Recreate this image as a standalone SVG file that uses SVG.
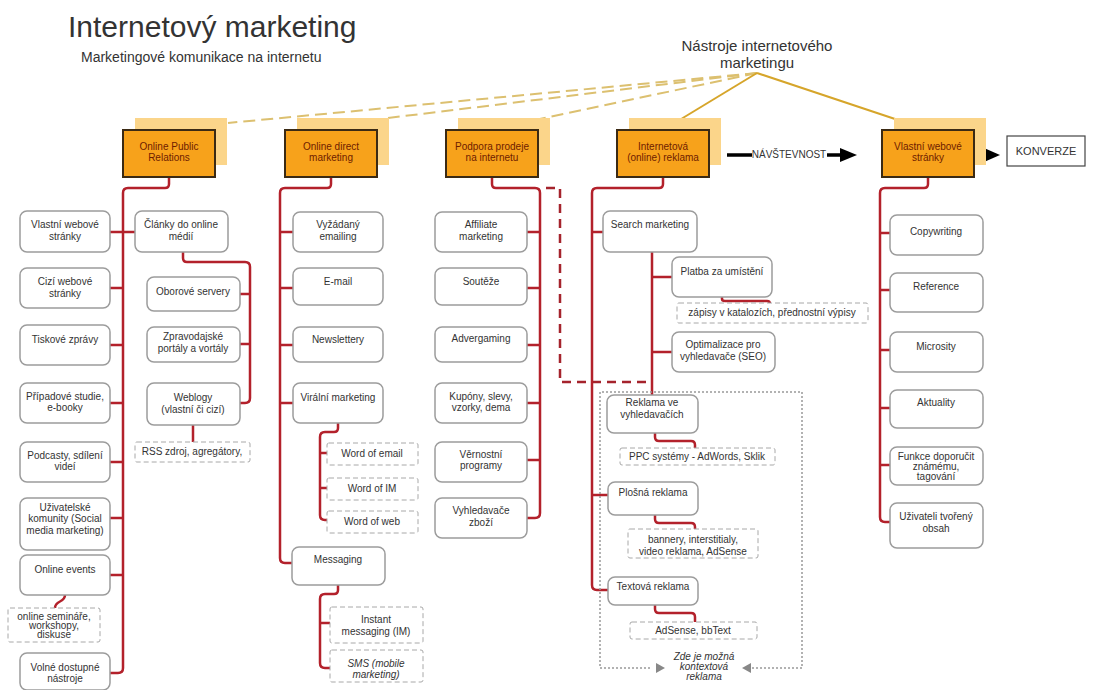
<svg xmlns="http://www.w3.org/2000/svg" width="1114" height="690" viewBox="0 0 1114 690">
<style>
text{font-family:"Liberation Sans",Arial,sans-serif;fill:#333}
.t{font-size:30px;fill:#333}
.st{font-size:14px}
.nh{font-size:15px}
.ob{fill:#f7a21b;stroke:#3b2a14;stroke-width:2}
.sh{fill:#fbd58a}
.ot{font-size:10px;fill:#6e1c00;text-anchor:middle}
.cb{fill:#fff;stroke:#9c9c9c;stroke-width:1.5}
.db{fill:#fff;stroke:#a8a8a8;stroke-width:1;stroke-dasharray:5,3}
.ct{font-size:10px;fill:#333;text-anchor:middle}
.it{font-style:italic}
.red{fill:none;stroke:#b3212b;stroke-width:2.5;stroke-linejoin:round}
.rdash{fill:none;stroke:#a5232c;stroke-width:2.5;stroke-dasharray:9,6}
.gold{stroke:#d6a52a;stroke-width:2;fill:none}
.goldd{stroke:#dcc070;stroke-width:2;fill:none;stroke-dasharray:12,6}
.blk{stroke:#000;stroke-width:3.5;fill:none}
</style>

<!-- titles -->
<text class="t" x="68" y="37">Internetový marketing</text>
<text class="st" x="81" y="62">Marketingové komunikace na internetu</text>
<g id="nastroje">
<text class="nh" x="757" y="51" text-anchor="middle">Nástroje internetového</text>
<text class="nh" x="757" y="68" text-anchor="middle">marketingu</text>
</g>

<!-- connectors -->
<g id="connectors">
<path class="goldd" d="M757,73 L228,123"/>
<path class="goldd" d="M757,73 L388,118"/>
<path class="goldd" d="M757,73 L492,129"/>
<path class="gold" d="M757,73 L663,130"/>
<path class="gold" d="M757,73 L928,130"/>

<!-- PR -->
<path class="red" d="M169,177 V184 Q169,188 165,188 H128 Q123,188 123,193 V668 Q123,673 118,673 H110"/>
<path class="red" d="M123,232 H110 M123,288 H110 M123,345 H110 M123,403 H110 M123,462 H110 M123,518 H110 M123,575 H110 M123,232 H135"/>
<path class="red" d="M183,252 V258 Q183,262 187,262 H245 Q250,262 250,267 V398 Q250,403 245,403 H240 M250,294 H240 M250,344 H240"/>
<path class="red" d="M193,425 V442"/>
<path class="red" d="M65,595 C65,603 55,600 55,608"/>

<!-- direct -->
<path class="red" d="M331,177 V184 Q331,188 327,188 H285 Q280,188 280,193 V558 Q280,563 285,563 H292"/>
<path class="red" d="M280,232 H293 M280,288 H293 M280,345 H293 M280,403 H293"/>
<path class="red" d="M338,423 V428 Q338,432 334,432 H325 Q320,432 320,437 V515 Q320,520 325,520 H327 M320,453 H327 M320,488 H327"/>
<path class="red" d="M338,585 V590 Q338,594 334,594 H325 Q320,594 320,599 V663 Q320,668 325,668 H330 M320,623 H330"/>

<!-- Podpora -->
<path class="red" d="M492,177 V184 Q492,188 496,188 H535 Q540,188 540,193 V513 Q540,518 535,518 H527"/>
<path class="red" d="M540,232 H527 M540,288 H527 M540,345 H527 M540,403 H527 M540,460 H527"/>
<path class="rdash" d="M546,188 H560 V382 H652"/>

<!-- Internetova -->
<path class="red" d="M663,177 V184 Q663,188 659,188 H597 Q592,188 592,193 V585 Q592,590 597,590 H608"/>
<path class="red" d="M592,232 H603 M592,495 H608"/>
<path class="red" d="M652,252 V395 M652,277 H672 M652,352 H672"/>
<path class="red" d="M722,297 V299 Q722,301 725,301 H767 Q770,301 770,304"/>
<path class="red" d="M655,433 V437 Q655,441 659,441 H691 Q695,441 695,445 V448"/>
<path class="red" d="M655,515 V519 Q655,523 659,523 H691 Q695,523 695,527 V529"/>
<path class="red" d="M655,605 V609 Q655,613 659,613 H691 Q695,613 695,617 V622"/>

<!-- Vlastni -->
<path class="red" d="M928,177 V184 Q928,188 924,188 H885 Q880,188 880,193 V517 Q880,522 885,522 H890"/>
<path class="red" d="M880,233 H890 M880,290 H890 M880,350 H890 M880,408 H890 M880,465 H890"/>

<!-- black arrows -->
<path class="blk" d="M727,155 H752 M827,155 H842"/>
<polygon points="840,148 857,155 840,162" fill="#000"/>
<path class="blk" d="M976,155 H986"/>
<polygon points="984,148 1000,155 984,162" fill="#000"/>
</g>

<!-- orange tools -->
<g id="online-pr">
<rect class="sh" x="135" y="118" width="92" height="47"/>
<rect class="ob" x="123" y="130" width="92" height="47"/>
<text class="ot" x="169" y="150">Online Public</text>
<text class="ot" x="169" y="161">Relations</text>
</g>
<g id="online-direct">
<rect class="sh" x="297" y="118" width="92" height="47"/>
<rect class="ob" x="285" y="130" width="92" height="47"/>
<text class="ot" x="331" y="150">Online direct</text>
<text class="ot" x="331" y="161">marketing</text>
</g>
<g id="podpora">
<rect class="sh" x="458" y="118" width="92" height="47"/>
<rect class="ob" x="446" y="130" width="92" height="47"/>
<text class="ot" x="492" y="150">Podpora prodeje</text>
<text class="ot" x="492" y="161">na internetu</text>
</g>
<g id="internetova">
<rect class="sh" x="629" y="118" width="92" height="47"/>
<rect class="ob" x="617" y="130" width="92" height="47"/>
<text class="ot" x="663" y="150">Internetová</text>
<text class="ot" x="663" y="161">(online) reklama</text>
</g>
<g id="navstevnost"><text x="789" y="158" font-size="10" text-anchor="middle" fill="#222">NÁVŠTEVNOST</text></g>
<g id="vlastni">
<rect class="sh" x="894" y="118" width="92" height="47"/>
<rect class="ob" x="882" y="130" width="92" height="47"/>
<text class="ot" x="928" y="150">Vlastní webové</text>
<text class="ot" x="928" y="161">stránky</text>
</g>
<g id="konverze">
<rect x="1007" y="136" width="78" height="30" fill="#fff" stroke="#444" stroke-width="1.2"/>
<text x="1046" y="155" font-size="11" text-anchor="middle" fill="#222">KONVERZE</text>
</g>

<!-- PR children -->
<g id="pr-vlastni"><rect class="cb" x="20" y="211" width="90" height="41" rx="7"/><text class="ct" x="65" y="228">Vlastní webové</text><text class="ct" x="65" y="240">stránky</text></g>
<g id="pr-cizi"><rect class="cb" x="20" y="268" width="90" height="40" rx="7"/><text class="ct" x="65" y="285">Cizí webové</text><text class="ct" x="65" y="297">stránky</text></g>
<g id="pr-tiskove"><rect class="cb" x="20" y="325" width="90" height="40" rx="7"/><text class="ct" x="65" y="343">Tiskové zprávy</text></g>
<g id="pr-pripadove"><rect class="cb" x="20" y="383" width="90" height="40" rx="7"/><text class="ct" x="65" y="400">Případové studie,</text><text class="ct" x="65" y="411">e-booky</text></g>
<g id="pr-podcasty"><rect class="cb" x="20" y="442" width="90" height="40" rx="7"/><text class="ct" x="65" y="459">Podcasty, sdílení</text><text class="ct" x="65" y="470">videí</text></g>
<g id="pr-uzivatelske"><rect class="cb" x="20" y="498" width="90" height="52" rx="7"/><text class="ct" x="65" y="511">Uživatelské</text><text class="ct" x="65" y="522">komunity (Social</text><text class="ct" x="65" y="534">media marketing)</text></g>
<g id="pr-events"><rect class="cb" x="20" y="555" width="90" height="40" rx="7"/><text class="ct" x="65" y="573">Online events</text></g>
<g id="pr-seminare"><rect class="db" x="8" y="608" width="92" height="34" rx="2"/><text class="ct" x="54" y="620">online semináře,</text><text class="ct" x="54" y="629">workshopy,</text><text class="ct" x="54" y="638">diskuse</text></g>
<g id="pr-volne"><rect class="cb" x="20" y="653" width="90" height="37" rx="7"/><text class="ct" x="65" y="671">Volné dostupné</text><text class="ct" x="65" y="682">nástroje</text></g>
<g id="pr-clanky"><rect class="cb" x="135" y="211" width="93" height="41" rx="7"/><text class="ct" x="181" y="228">Články do online</text><text class="ct" x="181" y="240">médií</text></g>
<g id="pr-oborove"><rect class="cb" x="147" y="277" width="93" height="34" rx="7"/><text class="ct" x="193" y="295">Oborové servery</text></g>
<g id="pr-zpravodajske"><rect class="cb" x="147" y="327" width="93" height="35" rx="7"/><text class="ct" x="193" y="340">Zpravodajské</text><text class="ct" x="193" y="352">portály a vortály</text></g>
<g id="pr-weblogy"><rect class="cb" x="147" y="383" width="93" height="42" rx="7"/><text class="ct" x="193" y="401">Weblogy</text><text class="ct" x="193" y="413">(vlastní či cizí)</text></g>
<g id="pr-rss"><rect class="db" x="135" y="442" width="115" height="20" rx="2"/><text class="ct" x="192" y="455">RSS zdroj, agregátory,</text></g>

<!-- direct children -->
<g id="d-vyzadany"><rect class="cb" x="293" y="212" width="90" height="40" rx="7"/><text class="ct" x="338" y="228">Vyžádaný</text><text class="ct" x="338" y="240">emailing</text></g>
<g id="d-email"><rect class="cb" x="293" y="268" width="90" height="37" rx="7"/><text class="ct" x="338" y="285">E-mail</text></g>
<g id="d-newslettery"><rect class="cb" x="293" y="327" width="90" height="35" rx="7"/><text class="ct" x="338" y="343">Newslettery</text></g>
<g id="d-viralni"><rect class="cb" x="293" y="383" width="90" height="40" rx="7"/><text class="ct" x="338" y="401">Virální marketing</text></g>
<g id="d-woe"><rect class="db" x="327" y="443" width="91" height="22" rx="2"/><text class="ct" x="372" y="457">Word of email</text></g>
<g id="d-woim"><rect class="db" x="327" y="478" width="91" height="22" rx="2"/><text class="ct" x="372" y="492">Word of IM</text></g>
<g id="d-wow"><rect class="db" x="327" y="511" width="91" height="22" rx="2"/><text class="ct" x="372" y="525">Word of web</text></g>
<g id="d-messaging"><rect class="cb" x="292" y="547" width="93" height="38" rx="7"/><text class="ct" x="338" y="563">Messaging</text></g>
<g id="d-im"><rect class="db" x="330" y="607" width="93" height="36" rx="2"/><text class="ct" x="376" y="623">Instant</text><text class="ct" x="376" y="635">messaging (IM)</text></g>
<g id="d-sms"><rect class="db" x="330" y="650" width="93" height="32" rx="2"/><text class="ct it" x="376" y="667">SMS (mobile</text><text class="ct it" x="376" y="678">marketing)</text></g>

<!-- podpora children -->
<g id="p-affiliate"><rect class="cb" x="435" y="212" width="92" height="40" rx="7"/><text class="ct" x="481" y="228">Affiliate</text><text class="ct" x="481" y="240">marketing</text></g>
<g id="p-souteze"><rect class="cb" x="435" y="268" width="92" height="37" rx="7"/><text class="ct" x="481" y="285">Soutěže</text></g>
<g id="p-advergaming"><rect class="cb" x="435" y="327" width="92" height="35" rx="7"/><text class="ct" x="481" y="342">Advergaming</text></g>
<g id="p-kupony"><rect class="cb" x="435" y="383" width="92" height="40" rx="7"/><text class="ct" x="481" y="400">Kupóny, slevy,</text><text class="ct" x="481" y="411">vzorky, dema</text></g>
<g id="p-vernostni"><rect class="cb" x="435" y="442" width="92" height="40" rx="7"/><text class="ct" x="481" y="458">Věrnostní</text><text class="ct" x="481" y="469">programy</text></g>
<g id="p-vyhledavace"><rect class="cb" x="435" y="498" width="92" height="40" rx="7"/><text class="ct" x="481" y="514">Vyhledavače</text><text class="ct" x="481" y="526">zboží</text></g>

<!-- internetova children -->
<g id="r-context">
<path d="M650,668 H600 V392 H802 V668 H752" fill="none" stroke="#999" stroke-width="1.5" stroke-dasharray="2,2"/>
<polygon points="656,663 665,668 656,673" fill="#888"/>
<polygon points="751,663 742,668 751,673" fill="#888"/>
<text class="ct it" x="704" y="660" font-size="9">Zde je možná</text>
<text class="ct it" x="704" y="670" font-size="9">kontextová</text>
<text class="ct it" x="704" y="680" font-size="9">reklama</text>
</g>
<g id="r-search"><rect class="cb" x="603" y="211" width="94" height="41" rx="7"/><text class="ct" x="650" y="228">Search marketing</text></g>
<g id="r-platba"><rect class="cb" x="672" y="257" width="100" height="40" rx="7"/><text class="ct" x="722" y="275">Platba za umístění</text></g>
<g id="r-zapisy"><rect class="db" x="677" y="303" width="191" height="20" rx="2"/><text class="ct" x="772" y="316">zápisy v katalozích, přednostní výpisy</text></g>
<g id="r-seo"><rect class="cb" x="672" y="332" width="103" height="40" rx="7"/><text class="ct" x="723" y="348">Optimalizace pro</text><text class="ct" x="723" y="360">vyhledavače (SEO)</text></g>
<g id="r-reklama-ve"><rect class="cb" x="607" y="395" width="91" height="38" rx="7"/><text class="ct" x="652" y="406">Reklama ve</text><text class="ct" x="652" y="418">vyhledavačích</text></g>
<g id="r-ppc"><rect class="db" x="620" y="448" width="155" height="17" rx="2"/><text class="ct" x="697" y="460">PPC systémy - AdWords, Sklik</text></g>
<g id="r-plosna"><rect class="cb" x="608" y="482" width="90" height="33" rx="7"/><text class="ct" x="653" y="496">Plošná reklama</text></g>
<g id="r-bannery"><rect class="db" x="628" y="529" width="130" height="29" rx="2"/><text class="ct" x="693" y="543">bannery, interstitialy,</text><text class="ct" x="693" y="555">video reklama, AdSense</text></g>
<g id="r-textova"><rect class="cb" x="608" y="577" width="90" height="28" rx="7"/><text class="ct" x="653" y="590">Textová reklama</text></g>
<g id="r-adsense"><rect class="db" x="630" y="622" width="127" height="17" rx="2"/><text class="ct" x="693" y="634">AdSense, bbText</text></g>

<!-- vlastni children -->
<g id="v-copywriting"><rect class="cb" x="890" y="215" width="93" height="40" rx="7"/><text class="ct" x="936" y="235">Copywriting</text></g>
<g id="v-reference"><rect class="cb" x="890" y="273" width="93" height="39" rx="7"/><text class="ct" x="936" y="290">Reference</text></g>
<g id="v-microsity"><rect class="cb" x="890" y="332" width="93" height="40" rx="7"/><text class="ct" x="936" y="350">Microsity</text></g>
<g id="v-aktuality"><rect class="cb" x="890" y="390" width="93" height="38" rx="7"/><text class="ct" x="936" y="406">Aktuality</text></g>
<g id="v-funkce"><rect class="cb" x="890" y="447" width="93" height="38" rx="7"/><text class="ct" x="936" y="460">Funkce doporučit</text><text class="ct" x="936" y="470">známému,</text><text class="ct" x="936" y="480">tagování</text></g>
<g id="v-obsah"><rect class="cb" x="890" y="503" width="93" height="45" rx="7"/><text class="ct" x="936" y="520">Uživateli tvořený</text><text class="ct" x="936" y="532">obsah</text></g>
</svg>
